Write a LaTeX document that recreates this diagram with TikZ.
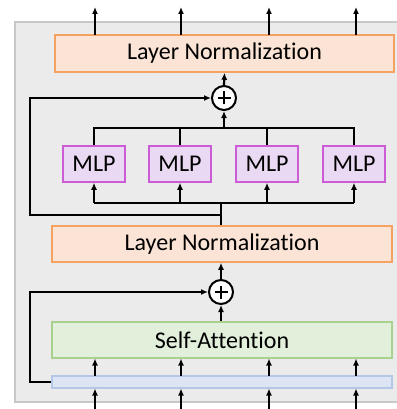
\documentclass[tikz,border=0pt]{standalone}
\usepackage{fontspec}
\setmainfont[Ligatures=NoCommon]{Carlito}
\usetikzlibrary{arrows.meta}
\definecolor{bgfill}{HTML}{EBEBEB}
\definecolor{bgline}{HTML}{C8C8C8}
\definecolor{lnfill}{HTML}{FBE4D5}
\definecolor{lnline}{HTML}{F4A261}
\definecolor{mlpfill}{HTML}{EAD9F2}
\definecolor{mlpline}{HTML}{CC5CD6}
\definecolor{safill}{HTML}{E2EFDA}
\definecolor{saline}{HTML}{A9D18E}
\definecolor{barfill}{HTML}{DDE5F4}
\definecolor{barline}{HTML}{B4C7E7}
\tikzset{
  txt/.style={font=\fontsize{24}{28}\selectfont},
  lnbox/.style={draw=lnline, fill=lnfill, line width=1.5pt, minimum width=339pt, minimum height=37pt, inner sep=0pt, txt},
  mlpbox/.style={draw=mlpline, fill=mlpfill, line width=1.5pt, minimum width=62pt, minimum height=36pt, inner sep=0pt, txt},
  sabox/.style={draw=saline, fill=safill, line width=1.5pt, minimum width=340pt, minimum height=36pt, inner sep=0pt, txt},
  barbox/.style={draw=barline, fill=barfill, line width=1.2pt, minimum width=340pt, minimum height=12pt, inner sep=0pt},
  plusnode/.style={circle, draw=black, fill=white, line width=2pt, minimum size=24pt, inner sep=0pt},
  wire/.style={line width=2.2pt, black},
  arr/.style={wire, -{Latex[length=7pt,width=6pt]}},
}
\begin{document}
\begin{tikzpicture}[x=1pt,y=-1pt]
\useasboundingbox (0,0) rectangle (396,409);
\draw[fill=bgfill, draw=bgline, line width=1.2pt] (15,22) rectangle (398,402);

\node[lnbox] (ln1) at (224.5,53.5) {Layer Normalization};
\node[plusnode] (p1) at (224,98) {};
\draw[line width=1.8pt] ([xshift=-6.5pt]p1.center) -- ([xshift=6.5pt]p1.center);
\draw[line width=1.8pt] ([yshift=-6.5pt]p1.center) -- ([yshift=6.5pt]p1.center);

\node[mlpbox] (m1) at (94,164) {MLP};
\node[mlpbox] (m2) at (180,164) {MLP};
\node[mlpbox] (m3) at (267,164) {MLP};
\node[mlpbox] (m4) at (354,164) {MLP};

\node[lnbox, minimum width=340pt, minimum height=36pt] (ln2) at (222,244) {Layer Normalization};
\node[plusnode] (p2) at (221,292) {};
\draw[line width=1.8pt] ([xshift=-6.5pt]p2.center) -- ([xshift=6.5pt]p2.center);
\draw[line width=1.8pt] ([yshift=-6.5pt]p2.center) -- ([yshift=6.5pt]p2.center);

\node[sabox] (sa) at (222,340) {Self-Attention};
\node[barbox] (bar) at (222,382) {};

% coordinates
\coordinate (bt) at (224,128);
\coordinate (bb) at (221,203);
\coordinate (rj) at (221,215);
\coordinate (r1a) at (30,215);
\coordinate (r1b) at (30,98);
\coordinate (r2a) at (30,382);
\coordinate (r2b) at (30,292);

% top outputs
\foreach \x in {95,181,269,356} {
  \coordinate (o\x) at (\x,7);
  \draw[arr] (\x,35) -- (o\x);
}
% bottom inputs
\foreach \x in {95,181,269,356} {
  \coordinate (i\x) at (\x,409);
  \draw[arr] (i\x) -- (\x,388.5);
  \draw[arr] (\x,376) -- (\x,358.5);
}

% MLP output bus
\draw[wire] (m1.north) |- (bt) -| (m4.north);
\draw[wire] (m2.north) -- (m2.north |- bt);
\draw[wire] (m3.north) -- (m3.north |- bt);
\draw[arr] (bt) -- (p1.south);
\draw[arr] (p1.north) -- (ln1.south);

% MLP input bus
\draw[wire] (ln2.north -| bb) -- (bb);
\draw[wire] (m1.south |- bb) -- (m4.south |- bb);
\foreach \m in {m1,m2,m3,m4} {
  \draw[arr] (\m.south |- bb) -- (\m.south);
}
% residual 1
\draw[arr] (rj) -- (r1a) -- (r1b) -- (p1.west);

% lower part
\draw[arr] (sa.north -| p2) -- (p2.south);
\draw[arr] (p2.north) -- (ln2.south -| p2);
\draw[arr] (bar.west) -- (r2a) -- (r2b) -- (p2.west);
\end{tikzpicture}
\end{document}
